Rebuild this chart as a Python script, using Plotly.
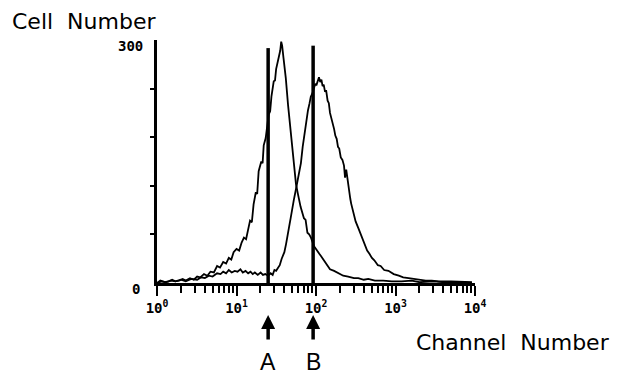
import math
import plotly.graph_objects as go

# Histogram A (left peak)
ch_a = [1.0, 1.1, 1.25, 1.4, 1.55, 1.7, 1.9, 2.1, 2.3, 2.6, 2.9, 3.2, 3.5, 3.9, 4.3, 4.7, 5.2,
        5.7, 6.2, 6.8, 7.4, 8.0, 8.6, 9.2, 10, 10.8, 11.6, 12.4, 13.2, 14.0, 14.8, 15.6, 16.4,
        17.5, 18.2, 19.0, 20.5, 21.3, 22.0, 23.3, 24.3, 25.4, 26.5, 27.5, 29.4, 30.5, 31.5, 33,
        34.0, 35.5, 36.5, 37.5, 39.0, 41.7, 44.5, 48.3, 53.0, 56, 59.2, 64.0, 70.5, 74, 78, 82,
        86.4, 90, 95, 100, 105, 110, 116, 125, 135, 150, 169, 190, 220, 254, 300, 340, 400, 455,
        550, 700, 900, 1190, 1600, 2000, 3000, 4000, 6000, 9100]
cnt_a = [0, 3, 1, 2, 4, 2, 3, 5, 3, 6, 4, 8, 7, 11, 9, 14, 13,
         21, 19, 26, 24, 31, 29, 38, 42, 40, 50, 56, 54, 66, 77, 75, 97,
         112, 110, 138, 150, 148, 170, 179, 195, 208, 212, 230, 249, 250, 264, 272,
         280, 287, 298, 293, 278, 253, 220, 184, 140, 122, 110, 94, 80, 78, 62, 60,
         56, 50, 45, 42, 38, 36, 33, 28, 24, 17, 15, 12, 9, 8, 6, 6, 4, 5,
         3, 3, 2, 2, 3, 1, 2, 1, 1, 0]

# Histogram B (right peak)
ch_b = [1.0, 1.15, 1.3, 1.5, 1.7, 2.0, 2.3, 2.7, 3.2, 3.6, 4.0, 4.5, 5.0, 5.7, 6.3, 6.8, 7.4,
        8.0, 8.7, 9.5, 10.3, 11.2, 12, 13, 14, 15, 16, 17, 18.5, 20.1, 21.5, 23, 25, 26.9, 28.5,
        30, 31.5, 33, 35, 37, 40, 42, 44.2, 46, 48, 50, 52.7, 55, 58, 61, 64.6, 68, 72, 75.5,
        79.2, 83, 86, 90, 94.4, 98, 101, 105, 109, 113, 117, 121, 125, 130, 134, 140, 145, 150,
        160, 169, 175, 182, 189, 196, 205, 215, 225, 232, 240, 250, 260, 270, 277, 290, 300,
        315, 340, 370, 405, 440, 470, 505, 542, 600, 650, 720, 815, 950, 1100, 1250, 1462,
        1700, 2000, 2400, 2855, 3500, 5000, 7000, 9160]
cnt_b = [0, 2, 1, 3, 2, 4, 2, 5, 4, 7, 6, 9, 8, 12, 11, 14, 12,
         16, 13, 15, 14, 17, 13, 15, 12, 14, 11, 13, 10, 13, 10, 11, 9, 12, 10,
         16, 15, 19, 22, 30, 38, 48, 58, 70, 80, 92, 103, 112, 124, 135, 148, 168, 186, 200,
         213, 222, 230, 234, 240, 246, 244, 250, 254, 248, 251, 243, 245, 236, 238, 225, 222, 210,
         200, 190, 182, 178, 168, 166, 155, 152, 145, 130, 140, 125, 117, 104, 98, 90, 86,
         76, 68, 58, 48, 40, 36, 31, 28, 22, 21, 16, 15, 11, 9, 7, 6,
         5, 4, 3, 3, 2, 2, 1, 1]

# Gate markers
marker_names = ["A", "B"]
marker_pos = [25, 92]
marker_top = [290, 293]

x_tickvals = [1, 10, 100, 1000, 10000]
x_ticktext = ["10<sup>0</sup>", "10<sup>1</sup>", "10<sup>2</sup>", "10<sup>3</sup>", "10<sup>4</sup>"]
y_tickvals = [60, 120, 180, 240]

minor_vals = [m * d for d in [1, 10, 100, 1000] for m in range(2, 10)]

fig = go.Figure()
fig.add_trace(go.Scatter(x=ch_a, y=cnt_a, mode="lines", line=dict(color="black", width=1.8), showlegend=False))
fig.add_trace(go.Scatter(x=ch_b, y=cnt_b, mode="lines", line=dict(color="black", width=1.8), showlegend=False))
for p, t in zip(marker_pos, marker_top):
    fig.add_trace(go.Scatter(x=[p, p], y=[0, t], mode="lines", line=dict(color="black", width=3.5), showlegend=False))

fig.update_layout(
    width=622, height=376,
    margin=dict(l=157, r=147, t=40, b=93),
    paper_bgcolor="white", plot_bgcolor="white",
    font=dict(family="Liberation Sans", color="black"),
    xaxis=dict(type="log", range=[0, 4], showline=True, linecolor="black", linewidth=2.5,
               showgrid=False, zeroline=False, ticks="outside", ticklen=10, tickwidth=2,
               tickcolor="black", tickvals=x_tickvals, ticktext=x_ticktext,
               tickfont=dict(family="DejaVu Sans Mono", size=14, color="black", weight="bold"),
               minor=dict(tickvals=minor_vals, ticks="outside", ticklen=7, tickwidth=1.8, tickcolor="black")),
    yaxis=dict(range=[0, 300], showline=True, linecolor="black", linewidth=2.5,
               showgrid=False, zeroline=False, ticks="outside", ticklen=4, tickwidth=1.5,
               tickcolor="black", tickvals=y_tickvals, showticklabels=False),
)

W, H, L, T = 318, 243, 157, 40


def px(xp):
    return (xp - L) / W


def py(yp):
    return (T + H - yp) / H


fig.add_annotation(text="Cell  Number", xref="paper", yref="paper", x=px(10), y=py(21),
                   xanchor="left", yanchor="middle", showarrow=False,
                   font=dict(size=22, family="DejaVu Sans", color="black"))
fig.add_annotation(text="Channel  Number", xref="paper", yref="paper", x=px(612), y=py(342),
                   xanchor="right", yanchor="middle", showarrow=False,
                   font=dict(size=22, family="DejaVu Sans", color="black"))
fig.add_annotation(text="300", xref="paper", yref="paper", x=px(145), y=py(46),
                   xanchor="right", yanchor="middle", showarrow=False,
                   font=dict(size=14, family="DejaVu Sans Mono", color="black", weight="bold"))
fig.add_annotation(text="0", xref="paper", yref="paper", x=px(142), y=py(289),
                   xanchor="right", yanchor="middle", showarrow=False,
                   font=dict(size=14, family="DejaVu Sans Mono", color="black", weight="bold"))
for name, p in zip(marker_names, marker_pos):
    fig.add_annotation(text="", x=math.log10(p), xref="x", y=py(315), yref="paper",
                       ax=0, ay=26, showarrow=True, arrowhead=2, arrowsize=0.8, arrowwidth=3.5,
                       arrowcolor="black")
    fig.add_annotation(text=name, x=math.log10(p), xref="x", y=py(362), yref="paper",
                       xanchor="center", yanchor="middle", showarrow=False,
                       font=dict(size=23, family="Liberation Sans", color="black"))

fig.write_html("out.html")
